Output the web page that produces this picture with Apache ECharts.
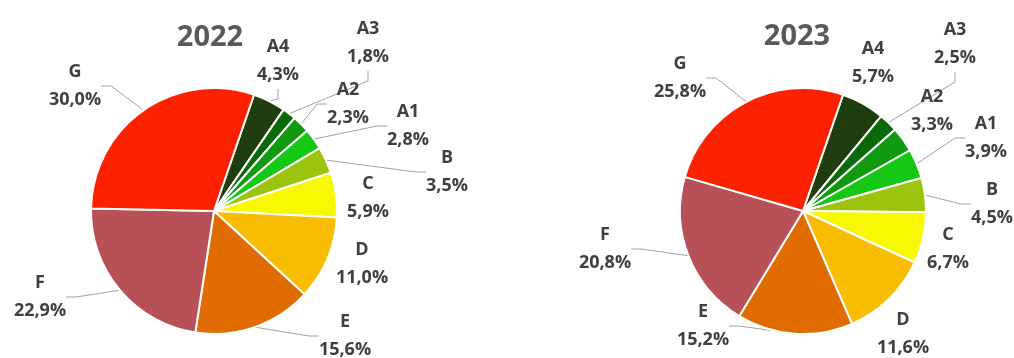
<!DOCTYPE html>
<html>
<head>
<meta charset="utf-8">
<script src="https://cdn.jsdelivr.net/npm/echarts@6/dist/echarts.min.js"></script>
<style>
  html, body { margin: 0; padding: 0; background: #fff; }
  #chart { width: 1014px; height: 358px; }
</style>
</head>
<body>
<div id="chart"></div>
<script>
// categories, clockwise from the G/A4 boundary
const categories = ['A4', 'A3', 'A2', 'A1', 'B', 'C', 'D', 'E', 'F', 'G'];
const values2022 = [4.3, 1.8, 2.3, 2.8, 3.5, 5.9, 11.0, 15.6, 22.9, 30.0];
const values2023 = [5.7, 2.5, 3.3, 3.9, 4.5, 6.7, 11.6, 15.2, 20.8, 25.8];
const years = ['2022', '2023'];

const colors = ['#1f3d0e', '#0a6a0a', '#109a10', '#14c814', '#9cc40c',
                '#f8f800', '#f8bc00', '#e06c00', '#b85058', '#fc2200'];

// label placement (block centres) and leader-line visibility
const labelPos = [
  [[278, 61], [368, 43], [348, 104], [408, 126], [447, 172], [368, 198], [362, 264], [345, 336], [40, 297], [75, 86]],
  [[873, 63], [955, 44], [932, 111], [986, 138], [992, 204], [948, 249], [903, 334], [703, 326], [605, 249], [680, 78]]
];
const showLine = [
  [true, true, true, true, true, false, false, true, true, true],
  [false, true, false, true, true, false, false, true, true, true]
];
const centers = [[214, 211], [803, 211]];

const chart = echarts.init(document.getElementById('chart'));

function makeSeries(vals, idx) {
  return {
    type: 'pie',
    center: centers[idx],
    radius: 123,
    startAngle: 71,
    clockwise: true,
    avoidLabelOverlap: false,
    itemStyle: { borderColor: '#fff', borderWidth: 2 },
    label: {
      show: true,
      color: '#404040',
      fontFamily: 'Open Sans',
      fontWeight: 'bold',
      fontSize: 18,
      lineHeight: 28,
      formatter: p => p.name + '\n' + p.value.toFixed(1).replace('.', ',') + '%'
    },
    labelLine: { lineStyle: { color: '#a0a0a0', width: 1 }, length: 10, length2: 10 },
    labelLayout: p => {
      const pos = labelPos[idx][p.dataIndex];
      return { x: pos[0], y: pos[1], align: 'center', verticalAlign: 'middle' };
    },
    emphasis: { disabled: true },
    data: categories.map((c, i) => ({
      name: c,
      value: vals[i],
      itemStyle: { color: colors[i] },
      labelLine: { show: showLine[idx][i] }
    }))
  };
}

const titleStyle = { fontFamily: 'Open Sans', fontWeight: 'bold', fontSize: 29, color: '#595959' };

chart.setOption({
  animation: false,
  title: [
    { text: years[0], left: 205, top: 33, textAlign: 'center', textVerticalAlign: 'middle', textStyle: titleStyle },
    { text: years[1], left: 792, top: 32, textAlign: 'center', textVerticalAlign: 'middle', textStyle: titleStyle }
  ],
  series: [makeSeries(values2022, 0), makeSeries(values2023, 1)]
});
</script>
</body>
</html>
